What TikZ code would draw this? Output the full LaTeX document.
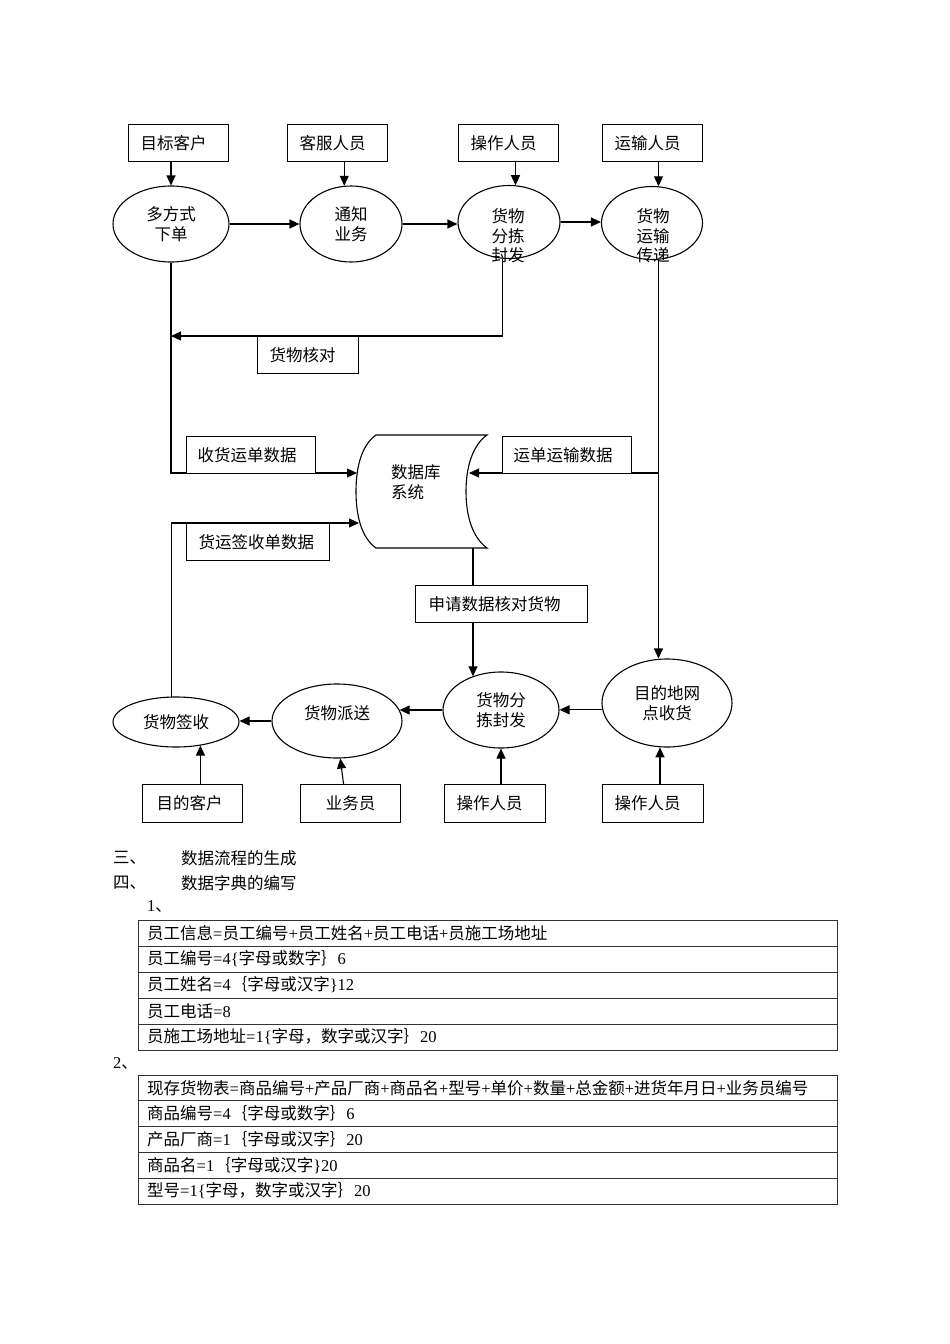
\documentclass[tikz,border=0pt]{standalone}
\usepackage{fontspec}
\setmainfont{Liberation Serif}
\newfontfamily\cjk{Noto Sans CJK SC}
\usetikzlibrary{shapes.geometric,arrows.meta,backgrounds}
\XeTeXinterchartokenstate=1
\newXeTeXintercharclass\hanclass
\newcount\hancode
\newcommand\sethanrange[2]{\hancode=#1 \loop\XeTeXcharclass\hancode=\hanclass \ifnum\hancode<#2 \advance\hancode by 1 \repeat}
\sethanrange{"3000}{"303F}
\sethanrange{"4E00}{"9FFF}
\sethanrange{"FF00}{"FFEF}
\XeTeXinterchartoks 0 \hanclass = {\cjk}
\XeTeXinterchartoks 4095 \hanclass = {\cjk}
\XeTeXinterchartoks \hanclass 0 = {\rmfamily}
\XeTeXinterchartoks \hanclass 4095 = {\rmfamily}
\begin{document}
\begin{tikzpicture}[x=1pt, y=-1pt,
  font=\fontsize{16.5}{19.5}\selectfont,
  proc/.style={ellipse, draw, line width=1.1pt, inner sep=0pt, align=center},
  tbox/.style={draw, fill=white, line width=1.1pt, inner xsep=12pt, inner ysep=0pt, minimum height=37pt, align=left, anchor=north west},
  arr/.style={line width=1.1pt, -{Triangle[length=10pt,width=9pt]}},
  plain/.style={inner sep=0pt, anchor=west},
  tline/.style={line width=0.9pt, black!80}]
\useasboundingbox (0,0) rectangle (950,1344);
\node[tbox, text width=76pt] (b1) at (128,124) {目标客户};
\node[tbox, text width=76pt] (b2) at (287,124) {客服人员};
\node[tbox, text width=76pt] (b3) at (458,124) {操作人员};
\node[tbox, text width=76pt] (b4) at (602,124) {运输人员};
\node[proc, minimum width=116pt, minimum height=76pt] (order) at (171,224) {多方式\\下单};
\node[proc, minimum width=102pt, minimum height=76pt] (notify) at (351,224) {通知\\业务};
\node[proc, minimum width=102pt, minimum height=73pt] (sort) at (509,222) {};
\node[align=center, inner sep=0pt] (sorttext) at (508,236) {货物\\分拣\\封发};
\node[proc, minimum width=101pt, minimum height=73pt] (carry) at (652,223) {};
\node[align=center, inner sep=0pt] (carrytext) at (653,236) {货物\\运输\\传递};
\node[tbox, text width=77pt] (chk) at (257,336) {货物核对};
\node[tbox, text width=107pt, inner xsep=11pt] (rcv) at (186,436) {收货运单数据};
\node[tbox, text width=107pt, inner xsep=11pt] (trn) at (502,436) {运单运输数据};
\node[tbox, text width=119pt] (sig) at (186,523) {货运签收单数据};
\node[minimum width=131pt, minimum height=113pt, inner sep=0pt] (db) at (421.5,491.5) {};
\draw[line width=1.1pt] (376,435) .. controls (362,445) and (356,466) .. (356,491.5) .. controls (356,517) and (362,538) .. (376,548) -- (487,548) .. controls (473,538) and (466,517) .. (466,491.5) .. controls (466,466) and (473,445) .. (487,435) -- cycle;
\node[plain, align=left] (dbtext) at (391,482) {数据库\\系统};
\coordinate (dbL1) at (357,473);
\coordinate (dbL2) at (359,523);
\coordinate (dbR) at (469,473);
\coordinate (dbB) at (473,548);
\node[tbox, text width=146pt, inner xsep=13pt] (req) at (415,585) {申请数据核对货物};
\node[proc, minimum width=130pt, minimum height=88pt] (dest) at (667,703) {目的地网\\点收货};
\node[proc, minimum width=116pt, minimum height=76pt] (sortB) at (501,710) {货物分\\拣封发};
\node[proc, minimum width=130pt, minimum height=74pt] (deliv) at (337,721) {};
\node[inner sep=0pt] (delivtext) at (337,713) {货物派送};
\node[proc, minimum width=126pt, minimum height=50pt] (sign) at (176,722) {货物签收};
\node[tbox, text width=72pt, minimum height=38pt, inner xsep=14pt] (bdest) at (142,784) {目的客户};
\node[tbox, text width=76pt, minimum height=38pt, align=center] (bsales) at (300,784) {业务员};
\node[tbox, text width=77pt, minimum height=38pt] (bop1) at (444,784) {操作人员};
\node[tbox, text width=77pt, minimum height=38pt] (bop2) at (602,784) {操作人员};
\begin{scope}[on background layer]
\draw[arr] (order.north |- b1.south) -- (order.north);
\draw[arr] (notify.100 |- b2.south) -- (notify.100);
\draw[arr] (sort.80 |- b3.south) -- (sort.80);
\draw[arr] (carry.80 |- b4.south) -- (carry.80);
\draw[arr] (order.east) -- (notify.west);
\draw[arr] (notify.east) -- (notify.east -| sort.west);
\draw[arr] (sort.east) -- (sort.east -| carry.west);
\draw[arr] (order.south) |- (dbL1);
\draw[arr] (sort.-100) |- (order.south |- chk.north);
\draw[arr] (carry.-80) -- (carry.-80 |- dest.north);
\draw[arr] (carry.-80 |- dbR) -- (dbR);
\draw[arr] (sign.101) |- (dbL2);
\draw[arr] (dbB) -- (dbB |- sortB.130);
\draw[arr] (dest.186) -- (dest.186 -| sortB.east);
\draw[arr] (sortB.west) -- (sortB.west -| deliv.10);
\draw[arr] (deliv.west) -- (deliv.west -| sign.east);
\draw[arr] (sign.-44 |- bdest.north) -- (sign.-44);
\draw[arr] ([xshift=-7pt]bsales.north) -- (deliv.-85);
\draw[arr] (sortB.south |- bop1.north) -- (sortB.south);
\draw[arr] (dest.-99 |- bop2.north) -- (dest.-99);
\end{scope}
\node[plain] (h3) at (113,858) {三、};
\node[plain] (h3text) at (181,858) {数据流程的生成};
\node[plain] (h4) at (113,883) {四、};
\node[plain] (h4text) at (181,883) {数据字典的编写};
\node[plain] (n1) at (147,907) {1、};
\draw[tline] (138,920) rectangle (837,1050);
\foreach \k in {1,...,4} \draw[tline] (138,920+26*\k) -- (837,920+26*\k);
\foreach \txt [count=\i] in {员工信息=员工编号+员工姓名+员工电话+员施工场地址, 员工编号=4\{字母或数字｝6, 员工姓名=4｛字母或汉字\}12, 员工电话=8, 员施工场地址=1\{字母，数字或汉字｝20}
  \node[plain] (staff\i) at (147,907+26*\i) {\txt};
\node[plain] (n2) at (113,1063) {2、};
\draw[tline] (138,1075) rectangle (837,1204);
\foreach \k in {1,...,4} \draw[tline] (138,1075+25.8*\k) -- (837,1075+25.8*\k);
\foreach \txt [count=\i] in {现存货物表=商品编号+产品厂商+商品名+型号+单价+数量+总金额+进货年月日+业务员编号, 商品编号=4｛字母或数字｝6, 产品厂商=1｛字母或汉字｝20, 商品名=1｛字母或汉字\}20, 型号=1\{字母，数字或汉字｝20}
  \node[plain] (goods\i) at (147,1062+25.8*\i) {\txt};
\end{tikzpicture}
\end{document}
